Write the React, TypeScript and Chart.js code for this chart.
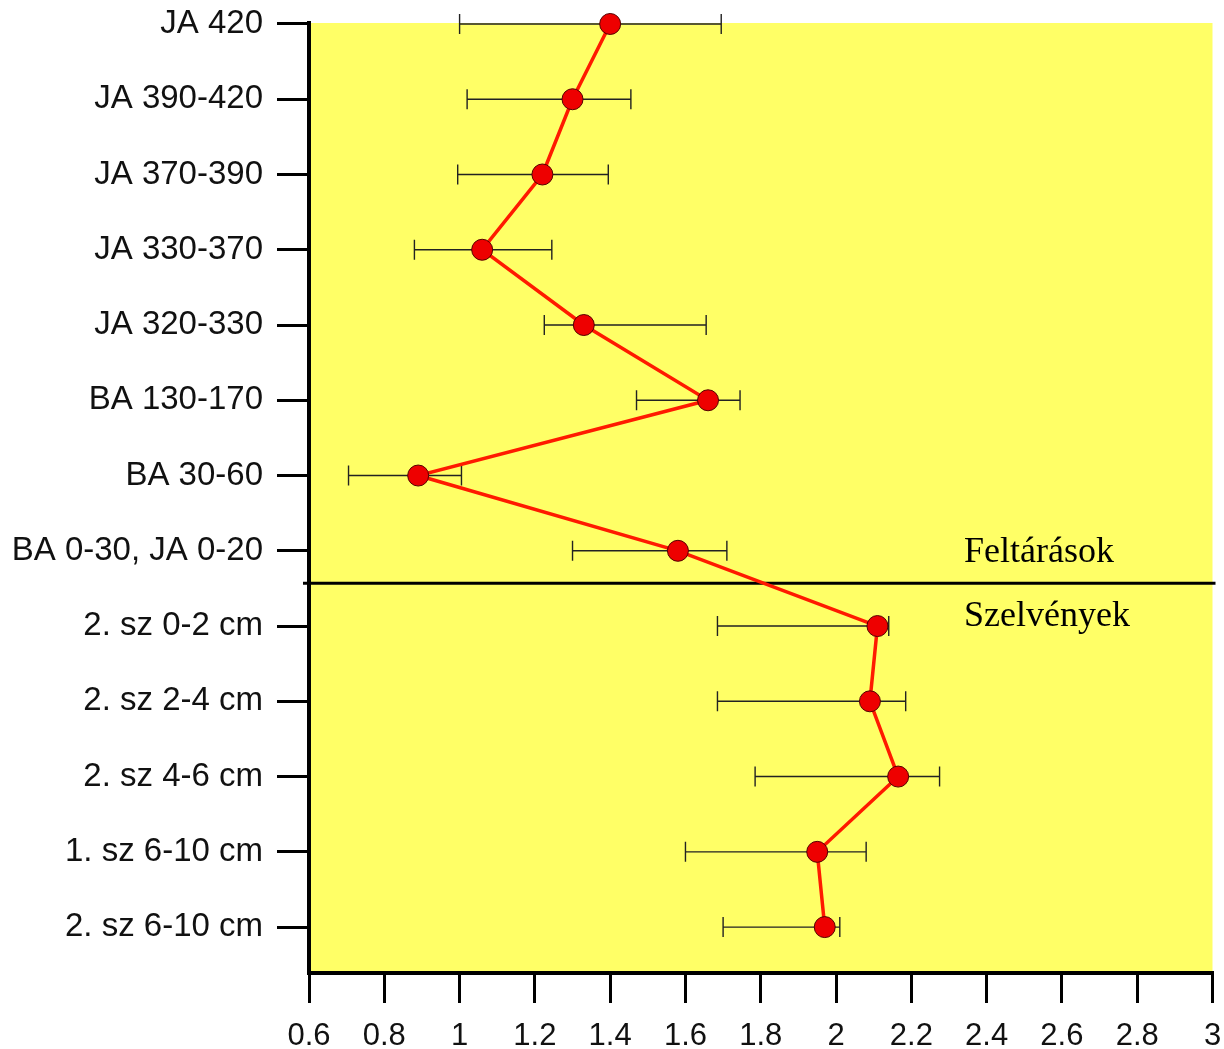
import { useEffect, useRef } from 'react';
import { Chart, registerables } from 'chart.js';

Chart.register(...registerables);

const categories = [
  'JA 420',
  'JA 390-420',
  'JA 370-390',
  'JA 330-370',
  'JA 320-330',
  'BA 130-170',
  'BA 30-60',
  'BA 0-30, JA 0-20',
  '2. sz 0-2 cm',
  '2. sz 2-4 cm',
  '2. sz 4-6 cm',
  '1. sz 6-10 cm',
  '2. sz 6-10 cm',
];
const means = [1.4, 1.3, 1.22, 1.06, 1.33, 1.66, 0.89, 1.58, 2.11, 2.09, 2.165, 1.95, 1.97];
const lower = [1.0, 1.02, 0.995, 0.88, 1.225, 1.47, 0.705, 1.3, 1.685, 1.685, 1.785, 1.6, 1.7];
const upper = [1.695, 1.455, 1.395, 1.245, 1.655, 1.745, 1.005, 1.71, 2.14, 2.185, 2.275, 2.08, 2.01];
const xTicks = [0.6, 0.8, 1, 1.2, 1.4, 1.6, 1.8, 2, 2.2, 2.4, 2.6, 2.8, 3];
const separatorAt = 7.43;
const sectionLabels = ['Feltárások', 'Szelvények'];
const sectionLabelY = [7.02, 7.87];
const sectionLabelX = 2.34;

const decorPlugin = {
  id: 'decor',
  beforeDraw(chart: any) {
    const { ctx, chartArea } = chart;
    ctx.save();
    ctx.fillStyle = '#ffff66';
    ctx.fillRect(chartArea.left, chartArea.top, chartArea.right - chartArea.left, chartArea.bottom - chartArea.top);
    ctx.restore();
  },
  beforeDatasetsDraw(chart: any) {
    const { ctx } = chart;
    const xs = chart.scales.x;
    const ys = chart.scales.y;
    ctx.save();
    ctx.strokeStyle = '#222222';
    ctx.lineWidth = 1.4;
    for (let i = 0; i < means.length; i++) {
      const y = ys.getPixelForValue(i);
      const x1 = xs.getPixelForValue(lower[i]);
      const x2 = xs.getPixelForValue(upper[i]);
      ctx.beginPath();
      ctx.moveTo(x1, y);
      ctx.lineTo(x2, y);
      ctx.moveTo(x1, y - 10);
      ctx.lineTo(x1, y + 10);
      ctx.moveTo(x2, y - 10);
      ctx.lineTo(x2, y + 10);
      ctx.stroke();
    }
    const sy = ys.getPixelForValue(separatorAt);
    ctx.strokeStyle = '#000000';
    ctx.lineWidth = 3;
    ctx.beginPath();
    ctx.moveTo(chart.chartArea.left - 6, sy);
    ctx.lineTo(chart.chartArea.right + 3, sy);
    ctx.stroke();
    ctx.fillStyle = '#000000';
    ctx.font = '36px "Liberation Serif", "Times New Roman", serif';
    ctx.textAlign = 'left';
    ctx.textBaseline = 'middle';
    const lx = xs.getPixelForValue(sectionLabelX);
    for (let i = 0; i < sectionLabels.length; i++) {
      ctx.fillText(sectionLabels[i], lx, ys.getPixelForValue(sectionLabelY[i]));
    }
    ctx.restore();
  },
};

export default function App() {
  const ref = useRef<HTMLCanvasElement | null>(null);
  useEffect(() => {
    document.body.style.margin = '0';
    const canvas = ref.current;
    if (!canvas) return;
    const chart = new Chart(canvas, {
      type: 'scatter',
      data: {
        datasets: [
          {
            data: means.map((v, i) => ({ x: v, y: i })),
            showLine: true,
            borderColor: '#ff1a00',
            borderWidth: 3.5,
            pointRadius: 10.5,
            pointHoverRadius: 10.5,
            pointBackgroundColor: '#ee0000',
            pointBorderColor: '#550000',
            pointBorderWidth: 1,
            clip: false as any,
          },
        ],
      },
      options: {
        animation: false,
        responsive: false,
        events: [],
        layout: { padding: { top: 23, right: 11, left: 0, bottom: 0 } },
        plugins: { legend: { display: false }, tooltip: { enabled: false } },
        scales: {
          x: {
            type: 'linear',
            min: 0.6,
            max: 3,
            afterBuildTicks: (scale: any) => {
              scale.ticks = xTicks.map((v) => ({ value: v }));
            },
            afterFit: (scale: any) => {
              scale.height = 76;
              scale.paddingLeft = 0;
              scale.paddingRight = 0;
            },
            border: { display: true, color: '#000000', width: 4 },
            grid: { drawOnChartArea: false, drawTicks: true, tickLength: 30, color: '#000000', lineWidth: 3 },
            ticks: {
              color: '#111111',
              padding: 15,
              font: { family: '"Liberation Sans Narrow", "Arial Narrow", "Liberation Sans", Arial, sans-serif', size: 31 },
              callback: (v: any) => String(+Number(v).toFixed(1)),
            },
          },
          y: {
            type: 'linear',
            reverse: true,
            min: -0.013,
            max: 12.61,
            afterBuildTicks: (scale: any) => {
              scale.ticks = categories.map((_, i) => ({ value: i }));
            },
            afterFit: (scale: any) => {
              scale.width = 309;
              scale.paddingTop = 0;
              scale.paddingBottom = 0;
            },
            border: { display: true, color: '#000000', width: 4 },
            grid: { drawOnChartArea: false, drawTicks: true, tickLength: 32, color: '#000000', lineWidth: 3 },
            ticks: {
              color: '#111111',
              padding: 14,
              font: { family: '"Liberation Sans", Arial, sans-serif', size: 33 },
              callback: (v: any) => categories[Math.round(Number(v))] ?? '',
            },
          },
        },
      },
      plugins: [decorPlugin],
    });
    return () => chart.destroy();
  }, []);
  return (
    <div style={{ width: 1224, height: 1049, background: '#ffffff' }}>
      <canvas ref={ref} width={1224} height={1049} />
    </div>
  );
}
